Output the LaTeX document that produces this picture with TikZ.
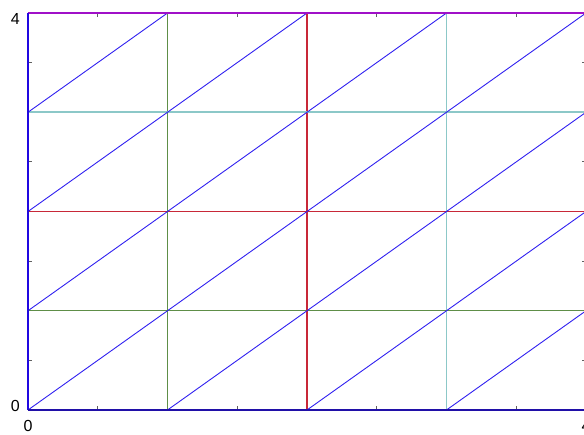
\documentclass[tikz,border=0pt]{standalone}
\usepackage{fontspec}
\setmainfont{Liberation Sans}
\usetikzlibrary{positioning}
\definecolor{diag}{HTML}{3020F0}
\definecolor{gridA}{HTML}{5E8E48}
\definecolor{gridB}{HTML}{C82838}
\definecolor{gridC}{HTML}{8CC8C8}
\definecolor{frameL}{HTML}{2008E0}
\definecolor{frameB}{HTML}{2010A8}
\definecolor{frameT}{HTML}{A010C8}
\definecolor{tickc}{HTML}{606060}

\begin{document}
\begin{tikzpicture}[
  x=139.5pt, y=99.25pt,
  every node/.style={font=\fontsize{16}{18}\selectfont, inner sep=0pt},
  tickmark/.style={draw=tickc, line width=1pt},
  gridline/.style={line width=1.5pt},
  diagline/.style={draw=diag, line width=0.9pt},
  frame/.style={line width=2pt},
]
  \clip (-28pt,-24pt) rectangle (556pt,410pt);

  % Ticks on all four sides
  \foreach \i in {0.5,1,...,3.5} {
    \draw[tickmark] (\i,0) -- ++(0,4pt);
    \draw[tickmark] (\i,4) -- ++(0,-4pt);
    \draw[tickmark] (0,\i) -- ++(4pt,0);
    \draw[tickmark] (4,\i) -- ++(-4pt,0);
  }

  % Grid lines
  \draw[gridline, gridA] (1,0) -- (1,4) (0,1) -- (4,1);
  \draw[gridline, gridB] (2,0) -- (2,4) (0,2) -- (4,2);
  \draw[gridline, gridC] (3,0) -- (3,4) (0,3) -- (4,3);

  % Diagonals of the triangulation
  \foreach \a/\b/\p/\q in {0/3/1/4, 0/2/2/4, 0/1/3/4, 0/0/4/4, 1/0/4/3, 2/0/4/2, 3/0/4/1}
    \draw[diagline] (\a,\b) -- (\p,\q);

  % Frame
  \draw[frame, draw=frameT] (0,4) -- (4,4);
  \draw[frame, draw=frameL] (0,0) -- (0,4);
  \draw[frame, draw=frameB] (0,0) -- (4,0);

  % Axis labels
  \node[anchor=east, xshift=-8pt, yshift=-6pt] (ymax) at (0,4) {4};
  \node[anchor=east, xshift=-8pt, yshift=4pt]  (ymin) at (0,0) {0};
  \node[anchor=north, yshift=-10pt]            (xmin) at (0,0) {0};
  \node[anchor=north, yshift=-10pt]            (xmax) at (4,0) {4};
\end{tikzpicture}
\end{document}
